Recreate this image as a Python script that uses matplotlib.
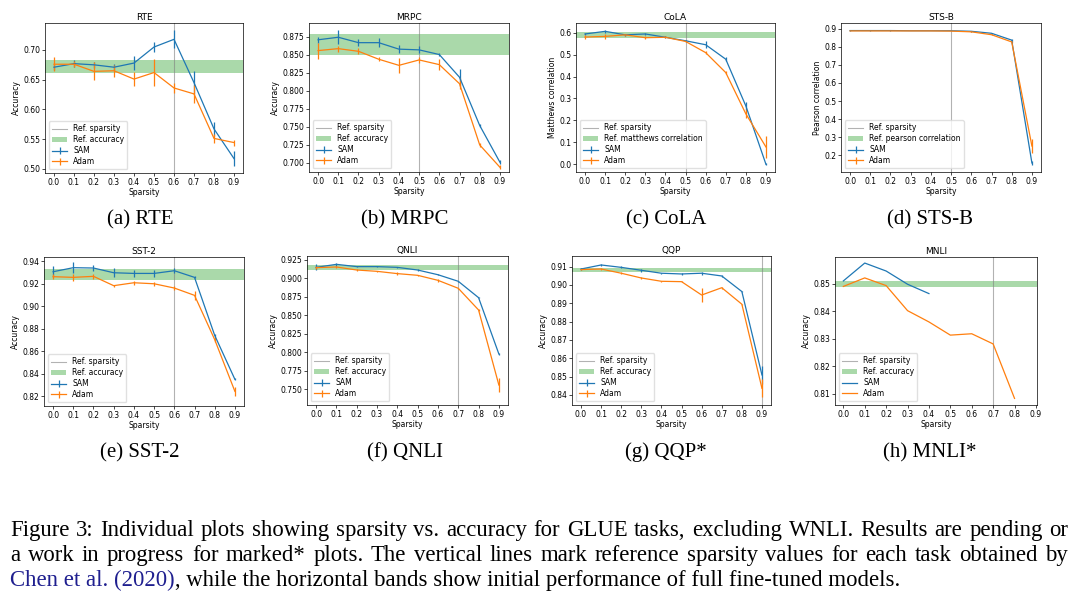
import numpy as np
from matplotlib import pyplot as plt

sparsity = [0.0, 0.1, 0.2, 0.3, 0.4, 0.5, 0.6, 0.7, 0.8, 0.9]
xticks = [0.0, 0.1, 0.2, 0.3, 0.4, 0.5, 0.6, 0.7, 0.8, 0.9]

# RTE
rte_sam = [0.671, 0.677, 0.675, 0.671, 0.678, 0.705, 0.718, 0.645, 0.567, 0.517]
rte_sam_err = [0.005, 0.006, 0.005, 0.005, 0.012, 0.008, 0.015, 0.020, 0.012, 0.012]
rte_adam = [0.676, 0.676, 0.664, 0.665, 0.651, 0.662, 0.636, 0.626, 0.551, 0.544]
rte_adam_err = [0.012, 0.005, 0.015, 0.010, 0.012, 0.022, 0.008, 0.015, 0.008, 0.005]
rte_band = (0.661, 0.683)

# MRPC
mrpc_sam = [0.871, 0.8745, 0.867, 0.867, 0.858, 0.857, 0.8505, 0.819, 0.752, 0.701]
mrpc_sam_err = [0.004, 0.010, 0.005, 0.006, 0.006, 0.005, 0.002, 0.012, 0.002, 0.003]
mrpc_adam = [0.856, 0.8587, 0.855, 0.844, 0.8355, 0.843, 0.8365, 0.810, 0.725, 0.694]
mrpc_adam_err = [0.011, 0.004, 0.004, 0.003, 0.010, 0.004, 0.008, 0.008, 0.003, 0.003]
mrpc_band = (0.850, 0.879)

# CoLA
cola_sam = [0.594, 0.606, 0.590, 0.594, 0.579, 0.563, 0.545, 0.479, 0.266, 0.0]
cola_sam_err = [0.005, 0.008, 0.003, 0.006, 0.004, 0.005, 0.015, 0.010, 0.020, 0.005]
cola_adam = [0.580, 0.583, 0.590, 0.577, 0.579, 0.560, 0.509, 0.418, 0.230, 0.079]
cola_adam_err = [0.010, 0.012, 0.004, 0.008, 0.005, 0.004, 0.006, 0.005, 0.020, 0.050]
cola_band = (0.577, 0.601)

# STS-B
stsb_sam = [0.891, 0.891, 0.891, 0.890, 0.890, 0.890, 0.887, 0.876, 0.838, 0.156]
stsb_sam_err = [0.002, 0.001, 0.001, 0.001, 0.001, 0.001, 0.002, 0.003, 0.005, 0.010]
stsb_adam = [0.889, 0.889, 0.889, 0.889, 0.889, 0.888, 0.884, 0.868, 0.828, 0.250]
stsb_adam_err = [0.001, 0.001, 0.001, 0.001, 0.001, 0.001, 0.002, 0.003, 0.005, 0.040]
stsb_band = (0.887, 0.891)

# SST-2
sst2_sam = [0.9308, 0.9344, 0.9341, 0.9299, 0.9293, 0.9293, 0.9317, 0.9258, 0.8742, 0.8351]
sst2_sam_err = [0.005, 0.005, 0.003, 0.004, 0.003, 0.003, 0.002, 0.001, 0.001, 0.001]
sst2_adam = [0.9264, 0.9258, 0.9267, 0.9184, 0.9210, 0.9201, 0.9163, 0.9098, 0.8704, 0.8244]
sst2_adam_err = [0.002, 0.003, 0.002, 0.001, 0.002, 0.002, 0.002, 0.004, 0.002, 0.004]
sst2_band = (0.9237, 0.9335)

# QNLI
qnli_sam = [0.915, 0.9191, 0.916, 0.916, 0.915, 0.9114, 0.905, 0.8961, 0.8739, 0.7975]
qnli_sam_err = [0.004, 0.002, 0.001, 0.001, 0.001, 0.001, 0.001, 0.001, 0.001, 0.001]
qnli_adam = [0.9146, 0.9155, 0.9114, 0.9096, 0.9065, 0.9042, 0.8974, 0.8866, 0.8572, 0.7554]
qnli_adam_err = [0.002, 0.001, 0.002, 0.001, 0.002, 0.001, 0.002, 0.001, 0.001, 0.010]
qnli_band = (0.911, 0.9182)

# QQP
qqp_sam = [0.9087, 0.9109, 0.9096, 0.908, 0.9064, 0.906, 0.9064, 0.9049, 0.8964, 0.8509]
qqp_sam_err = [0.0005, 0.0008, 0.0005, 0.0008, 0.0003, 0.0005, 0.0008, 0.0003, 0.0003, 0.005]
qqp_adam = [0.9084, 0.9087, 0.9064, 0.9038, 0.902, 0.9018, 0.8945, 0.8985, 0.8895, 0.8436]
qqp_adam_err = [0.0005, 0.0005, 0.0005, 0.0008, 0.0003, 0.0003, 0.004, 0.0005, 0.0003, 0.005]
qqp_band = (0.9071, 0.9091)

# MNLI (SAM still running past 0.4)
mnli_sam_x = [0.0, 0.1, 0.2, 0.3, 0.4]
mnli_sam = [0.851, 0.8575, 0.8546, 0.8498, 0.8464]
mnli_adam_x = [0.0, 0.1, 0.2, 0.3, 0.4, 0.5, 0.6, 0.7, 0.8]
mnli_adam = [0.849, 0.8521, 0.8493, 0.8402, 0.8361, 0.8313, 0.8318, 0.8281, 0.8083]
mnli_band = (0.8488, 0.8511)

W, H = 1080, 602
fig = plt.figure(figsize=(W / 100, H / 100), dpi=100)


def px_axes(left, right, top, bottom):
    return fig.add_axes([left / W, 1 - bottom / H, (right - left) / W, (bottom - top) / H])


def task_plot(ax, title, ref_x, band, band_label, ylabel,
              sam_x, sam, sam_err, adam_x, adam, adam_err, ylim, xlim=None):
    ax.axvline(ref_x, color="grey", alpha=0.6, lw=0.8, label="Ref. sparsity")
    ax.axhspan(band[0], band[1], color="C2", alpha=0.4, lw=0, label=band_label)
    ax.errorbar(sam_x, sam, yerr=sam_err, color="C0", lw=0.9, elinewidth=0.9, label="SAM")
    ax.errorbar(adam_x, adam, yerr=adam_err, color="C1", lw=0.9, elinewidth=0.9, label="Adam")
    ax.set_title(title, fontsize=6.5, pad=2.5)
    ax.set_xlabel("Sparsity", fontsize=5.5, labelpad=1)
    ax.set_ylabel(ylabel, fontsize=5.5, labelpad=1.5)
    ax.set_xticks(xticks)
    ax.set_ylim(*ylim)
    if xlim is not None:
        ax.set_xlim(*xlim)
    ax.tick_params(labelsize=5.5, length=2, width=0.5, pad=1.5)
    for s in ax.spines.values():
        s.set_linewidth(0.5)
    ax.legend(loc="lower left", fontsize=5.5, handlelength=2.0, borderpad=0.4,
              labelspacing=0.25, framealpha=0.8, edgecolor="0.85")


ax = px_axes(45, 243, 23, 173)
task_plot(ax, "RTE", 0.6, rte_band, "Ref. accuracy", "Accuracy",
          sparsity, rte_sam, rte_sam_err, sparsity, rte_adam, rte_adam_err, (0.4927, 0.7455))
ax = px_axes(309, 509, 23, 172)
task_plot(ax, "MRPC", 0.5, mrpc_band, "Ref. accuracy", "Accuracy",
          sparsity, mrpc_sam, mrpc_sam_err, sparsity, mrpc_adam, mrpc_adam_err, (0.6874, 0.8943))
ax = px_axes(576, 775, 23, 172)
task_plot(ax, "CoLA", 0.5, cola_band, "Ref. matthews correlation", "Matthews correlation",
          sparsity, cola_sam, cola_sam_err, sparsity, cola_adam, cola_adam_err, (-0.035, 0.644))
ax = px_axes(841, 1041, 23, 172)
task_plot(ax, "STS-B", 0.5, stsb_band, "Ref. pearson correlation", "Pearson correlation",
          sparsity, stsb_sam, stsb_sam_err, sparsity, stsb_adam, stsb_adam_err, (0.106, 0.933))
ax = px_axes(44, 244, 257, 406)
task_plot(ax, "SST-2", 0.6, sst2_band, "Ref. accuracy", "Accuracy",
          sparsity, sst2_sam, sst2_sam_err, sparsity, sst2_adam, sst2_adam_err, (0.8114, 0.9439))
ax = px_axes(307, 508, 256, 405)
task_plot(ax, "QNLI", 0.7, qnli_band, "Ref. accuracy", "Accuracy",
          sparsity, qnli_sam, qnli_sam_err, sparsity, qnli_adam, qnli_adam_err, (0.7283, 0.9304))
ax = px_axes(572, 771, 256, 405)
task_plot(ax, "QQP", 0.9, qqp_band, "Ref. accuracy", "Accuracy",
          sparsity, qqp_sam, qqp_sam_err, sparsity, qqp_adam, qqp_adam_err, (0.8345, 0.9158))
ax = px_axes(835, 1037, 257, 405)
task_plot(ax, "MNLI", 0.7, mnli_band, "Ref. accuracy", "Accuracy",
          mnli_sam_x, mnli_sam, None, mnli_adam_x, mnli_adam, None, (0.8059, 0.8597),
          xlim=(-0.039, 0.905))

# sub-captions
serif = "Liberation Serif"
subcaps = ["(a) RTE", "(b) MRPC", "(c) CoLA", "(d) STS-B",
           "(e) SST-2", "(f) QNLI", "(g) QQP*", "(h) MNLI*"]
col_x = [140, 405, 666, 930]
row_y = [224, 457]
for i, s in enumerate(subcaps):
    fig.text(col_x[i % 4] / W, 1 - row_y[i // 4] / H, s, ha="center", va="baseline",
             fontsize=15, family=serif)

# figure caption, first two lines justified
line1 = ("Figure 3: Individual plots showing sparsity vs. accuracy for GLUE tasks, "
         "excluding WNLI. Results are pending or")
line2 = ("a work in progress for marked* plots. The vertical lines mark reference "
         "sparsity values for each task obtained by")
cap_left, cap_right = 10, 1068
cap_size = 16.4
renderer = fig.canvas.get_renderer()


def justified(text, base_y):
    words = text.split(" ")
    objs = [fig.text(0, 1 - base_y / H, w, va="baseline", fontsize=cap_size, family=serif)
            for w in words]
    widths = [t.get_window_extent(renderer).width for t in objs]
    gap = (cap_right - cap_left - sum(widths)) / (len(words) - 1)
    x = cap_left
    for t, w in zip(objs, widths):
        t.set_x(x / W)
        x += w + gap


justified(line1, 536)
justified(line2, 561)

t = fig.text(cap_left / W, 1 - 586 / H, "Chen et al. (2020)", va="baseline",
             fontsize=cap_size, family=serif, color="#1f1f8f")
w = t.get_window_extent(renderer).width
fig.text((cap_left + w) / W, 1 - 586 / H,
         ", while the horizontal bands show initial performance of full fine-tuned models.",
         va="baseline", fontsize=cap_size, family=serif)

fig.savefig("out.png", dpi=100)
